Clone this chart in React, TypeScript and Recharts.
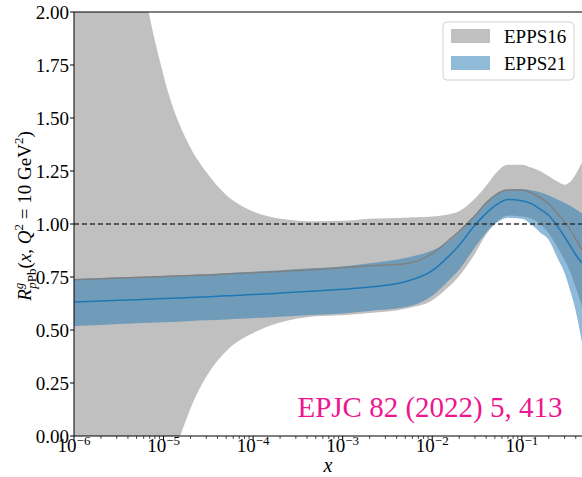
import React from 'react';
import {
   ComposedChart,
   Area,
   Line,
   XAxis,
   YAxis,
   ReferenceLine,
} from 'recharts';

// x grid (log)
const xValues = [
   1e-6, 2e-6, 5e-6, 1e-5, 2e-5, 3e-5, 5e-5, 7e-5, 1e-4, 2e-4, 5e-4, 1e-3, 2e-3,
   5e-3, 1e-2, 1.5e-2, 2e-2, 3e-2, 4e-2, 5e-2, 7e-2, 0.1, 0.13, 0.16, 0.2, 0.25,
   0.3, 0.35, 0.4, 0.47,
];

const epps16Hi = [
   7.0, 4.28, 2.36, 1.7, 1.36, 1.245, 1.137, 1.092, 1.059, 1.025, 1.013, 1.015,
   1.025, 1.03, 1.035, 1.045, 1.06, 1.12, 1.18, 1.235, 1.28, 1.28, 1.265, 1.25,
   1.225, 1.2, 1.185, 1.2, 1.235, 1.29,
];
const epps16Lo = [
   -6.0, -3.5, -1.2, -0.31, 0.13, 0.28, 0.4, 0.45, 0.486, 0.535, 0.565, 0.57,
   0.58, 0.6, 0.64, 0.7, 0.755, 0.86, 0.95, 1.0, 1.04, 1.035, 1.025, 1.0,
   0.955, 0.89, 0.83, 0.77, 0.7, 0.61,
];
const epps16Mid = [
   0.737, 0.742, 0.748, 0.752, 0.757, 0.759, 0.764, 0.767, 0.77, 0.776, 0.785,
   0.795, 0.803, 0.813, 0.86, 0.92, 0.965, 1.04, 1.1, 1.135, 1.16, 1.16, 1.145,
   1.125, 1.095, 1.05, 1.01, 0.97, 0.93, 0.877,
];

const epps21Hi = [
   0.74, 0.745, 0.751, 0.755, 0.76, 0.763, 0.768, 0.772, 0.775, 0.782, 0.792,
   0.8, 0.815, 0.84, 0.875, 0.915, 0.96, 1.04, 1.1, 1.135, 1.16, 1.165, 1.158,
   1.15, 1.135, 1.115, 1.1, 1.085, 1.07, 1.05,
];
const epps21Lo = [
   0.519, 0.524, 0.532, 0.537, 0.543, 0.546, 0.55, 0.553, 0.556, 0.563, 0.572,
   0.578, 0.59, 0.608, 0.662, 0.73, 0.785, 0.89, 0.96, 1.0, 1.03, 1.025, 0.995,
   0.96, 0.925, 0.84, 0.77, 0.68, 0.59, 0.44,
];
const epps21Mid = [
   0.632, 0.637, 0.643, 0.648, 0.653, 0.656, 0.661, 0.664, 0.667, 0.674, 0.684,
   0.692, 0.703, 0.728, 0.78, 0.845, 0.9, 0.995, 1.05, 1.085, 1.115, 1.11,
   1.095, 1.07, 1.04, 0.99, 0.94, 0.895, 0.855, 0.816,
];

const majorTicks = [1e-6, 1e-5, 1e-4, 1e-3, 1e-2, 1e-1];
const minorTicks = majorTicks.flatMap((d) =>
   [2, 3, 4, 5, 6, 7, 8, 9].map((m) => m * d).filter((v) => v <= 0.47),
);
const yTicks = [0, 0.25, 0.5, 0.75, 1, 1.25, 1.5, 1.75, 2];

const FONT = '"Liberation Serif", "DejaVu Serif", serif';

const data = xValues.map((x, i) => ({
   x,
   g16: [epps16Lo[i], epps16Hi[i]],
   g16c: epps16Mid[i],
   b21: [epps21Lo[i], epps21Hi[i]],
   b21c: epps21Mid[i],
}));

const LogTick = ({ x, y, payload }: any) => {
   const v = payload.value;
   const e = Math.round(Math.log10(v));
   const major = Math.abs(Math.log10(v) - e) < 1e-6;
   return (
      <g>
         <line
            x1={x}
            x2={x}
            y1={y}
            y2={y + (major ? 5 : 3)}
            stroke="#000"
            strokeWidth={major ? 1 : 0.7}
         />
         {major && (
            <text
               x={x}
               y={y + 16}
               textAnchor="middle"
               fontFamily={FONT}
               fontSize={19}
               fill="#000"
            >
               10
               <tspan dy={-7} fontSize={13}>
                  {'\u2212' + -e}
               </tspan>
            </text>
         )}
      </g>
   );
};

const App = () => {
   return (
      <div
         style={{
            position: 'absolute',
            left: 0,
            top: 0,
            width: 582,
            height: 477,
            background: '#fff',
         }}
      >
         <ComposedChart
            width={582}
            height={477}
            data={data}
            margin={{ top: 12, right: 0, bottom: 11, left: 14 }}
         >
            <XAxis
               dataKey="x"
               type="number"
               scale="log"
               domain={[1e-6, 0.47]}
               allowDataOverflow
               ticks={[...majorTicks, ...minorTicks]}
               tick={<LogTick />}
               tickLine={false}
               tickSize={0}
               tickMargin={0}
               interval={0}
               height={30}
               axisLine={{ stroke: '#000', strokeWidth: 1 }}
            />
            <YAxis
               type="number"
               domain={[0, 2]}
               allowDataOverflow
               ticks={yTicks}
               tickFormatter={(v) => v.toFixed(2)}
               tick={{ fontFamily: FONT, fontSize: 19, fill: '#000' }}
               tickLine={{ stroke: '#000' }}
               tickSize={4}
               tickMargin={1}
               width={60}
               axisLine={{ stroke: '#000', strokeWidth: 1 }}
            />
            <Area
               type="monotone"
               dataKey="g16"
               stroke="none"
               fill="#c0c0c0"
               fillOpacity={1}
               isAnimationActive={false}
            />
            <Line
               type="monotone"
               dataKey="g16c"
               stroke="#808080"
               strokeWidth={1.5}
               dot={false}
               isAnimationActive={false}
            />
            <Area
               type="monotone"
               dataKey="b21"
               stroke="none"
               fill="#1f77b4"
               fillOpacity={0.5}
               isAnimationActive={false}
            />
            <Line
               type="monotone"
               dataKey="b21c"
               stroke="#1f77b4"
               strokeWidth={1.5}
               dot={false}
               isAnimationActive={false}
            />
            <ReferenceLine
               y={1}
               stroke="#333"
               strokeWidth={1.5}
               strokeDasharray="5 3"
            />
            <ReferenceLine y={2} stroke="#000" strokeWidth={1.2} />
         </ComposedChart>

         <svg
            width={582}
            height={477}
            style={{ position: 'absolute', left: 0, top: 0, pointerEvents: 'none' }}
         >
            {/* y label */}
            <text
               transform="translate(31 216) rotate(-90)"
               textAnchor="middle"
               fontFamily={FONT}
               fontSize={19}
               fill="#000"
            >
               <tspan fontStyle="italic">R</tspan>
               <tspan fontStyle="italic" fontSize={13} dy={-8}>
                  g
               </tspan>
               <tspan fontSize={13} dx={-6} dy={13}>
                  <tspan fontStyle="italic">p</tspan>Pb
               </tspan>
               <tspan dy={-5}>(</tspan>
               <tspan fontStyle="italic">x</tspan>
               <tspan>, </tspan>
               <tspan fontStyle="italic">Q</tspan>
               <tspan fontSize={13} dy={-8}>
                  2
               </tspan>
               <tspan dy={8}> = 10 GeV</tspan>
               <tspan fontSize={13} dy={-8}>
                  2
               </tspan>
               <tspan dy={8}>)</tspan>
            </text>

            {/* x label */}
            <text
               x={328}
               y={472}
               textAnchor="middle"
               fontFamily={FONT}
               fontSize={20}
               fontStyle="italic"
               fill="#000"
            >
               x
            </text>

            {/* reference annotation */}
            <text
               x={430}
               y={417}
               textAnchor="middle"
               fontFamily={FONT}
               fontSize={29}
               fill="#ee1690"
            >
               EPJC 82 (2022) 5, 413
            </text>

            {/* legend */}
            <rect
               x={443}
               y={22}
               width={131}
               height={58}
               rx={4}
               fill="#fff"
               fillOpacity={0.8}
               stroke="#d0d0d0"
            />
            <rect x={451} y={29} width={39} height={14} fill="#c0c0c0" />
            <rect x={451} y={56} width={39} height={14} fill="#8fbbd9" />
            <text x={504} y={43} fontFamily={FONT} fontSize={19} fill="#000">
               EPPS16
            </text>
            <text x={504} y={70} fontFamily={FONT} fontSize={19} fill="#000">
               EPPS21
            </text>
         </svg>
      </div>
   );
};

export default App;
